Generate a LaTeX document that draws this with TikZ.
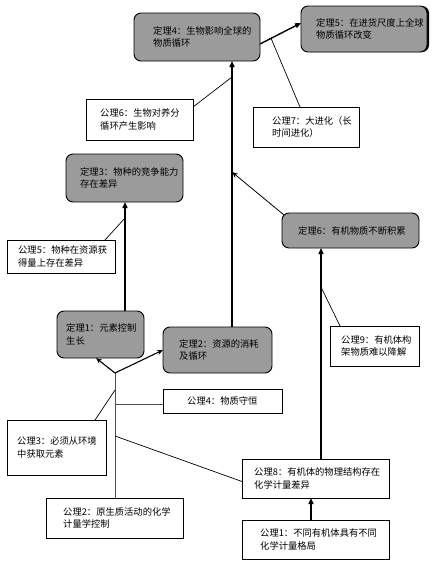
\documentclass[tikz,border=0pt]{standalone}
\usepackage{fontspec}
\setmainfont{Noto Sans CJK SC}
\usetikzlibrary{arrows.meta,shadows,backgrounds}
\definecolor{thmgray}{RGB}{155,155,155}
\definecolor{linegray}{RGB}{80,80,80}
\tikzset{
  thm/.style={draw=black, line width=0.9pt, fill=thmgray, rounded corners=7pt, outer sep=0pt, inner sep=0pt},
  ax/.style={draw=black, line width=0.8pt, fill=white, outer sep=0pt, inner sep=0pt},
  txt/.style={inner sep=0pt, align=left, font=\fontsize{9.3}{12.5}\selectfont},
  thinline/.style={line width=0.7pt, draw=black},
  grayline/.style={line width=0.9pt, draw=linegray},
  bigarr/.style={line width=1.4pt, -{Triangle[length=6pt,width=5pt]}},
  midarr/.style={line width=1.1pt, -{Stealth[length=6pt,width=5pt]}},
  smallarr/.style={line width=0.8pt, -{Stealth[length=6pt,width=5pt]}},
}
\newcommand\mybox[8]{%
  \node[#1, minimum width=#5pt, minimum height=#6pt, anchor=north west] (#2) at (#3,#4) {};
  \node[txt, anchor=west] (#2t) at ([xshift=#7pt]#2.west) {#8};}
\begin{document}
\begin{tikzpicture}[x=1pt,y=-1pt]
\useasboundingbox (0,0) rectangle (438,566);
% theorem boxes
\mybox{thm}{t4}{134}{13}{126}{48}{19}{定理4：生物影响全球的\\物质循环}
\mybox{thm,drop shadow={shadow xshift=2pt,shadow yshift=0pt,fill=black,opacity=1}}{t5}{301}{6}{126}{46}{15}{定理5：在进货尺度上全球\\物质循环改变}
\mybox{thm}{t3}{66}{154}{117}{48}{14}{定理3：物种的竞争能力\\存在差异}
\mybox{thm}{t6}{282}{213}{137}{35}{16}{定理6：有机物质不断积累}
\mybox{thm}{t1}{57}{311}{87}{47}{9}{定理1：元素控制\\生长}
\mybox{thm}{t2}{163}{327}{109}{46}{16}{定理2：资源的消耗\\及循环}
% axiom boxes
\mybox{ax}{a6}{86}{99}{107}{41}{14}{公理6：生物对养分\\循环产生影响}
\mybox{ax}{a7}{253}{107}{106}{40}{19}{公理7：大进化（长\\时间进化）}
\mybox{ax}{a5}{7}{240}{108}{33}{11}{公理5：物种在资源获\\得量上存在差异}
\mybox{ax}{a9}{330}{326}{89}{40}{11}{公理9：有机体构\\架物质难以降解}
\mybox{ax}{a4}{163}{389}{119}{24}{24}{公理4：物质守恒}
\mybox{ax}{a3}{7}{420}{99}{55}{10}{公理3：必须从环境\\中获取元素}
\mybox{ax}{a2}{46}{498}{137}{40}{17}{公理2：原生质活动的化学\\计量学控制}
\mybox{ax}{a8}{242}{459}{147}{39}{12}{公理8：有机体的物理结构存在\\化学计量差异}
\mybox{ax}{a1}{242}{520}{147}{39}{18}{公理1：不同有机体具有不同\\化学计量格局}
% junction points
\coordinate (j) at (115,373);
\coordinate (k3) at (115,390);
\coordinate (k4) at (115,404);
\coordinate (k8) at (115,436);
\coordinate (k9) at (321,287);
\coordinate (k5) at (125,218);
\coordinate (k6) at (232,77);
\coordinate (kt6) at (232,172);
\begin{pgfonlayer}{background}
\draw[grayline] (j) -- (j |- a2.north);
\draw[midarr] (j) -- ([xshift=39pt]t1.south west);
\draw[midarr] (j) -- (t2.west);
\draw[grayline] (k4) -- (k4 -| a4.west);
\draw[thinline] ([xshift=88pt]a3.north west) -- (k3);
\draw[thinline] (k8) -- ([yshift=-3pt]a8.west);
\draw[bigarr] ([xshift=69pt]a1.north west) coordinate (p1) -- (p1 |- a8.south);
\draw[bigarr] ([xshift=79pt]a8.north west) coordinate (p8) -- (p8 |- t6.south);
\draw[thinline] ([xshift=10pt]a9.north west) -- (k9);
\draw[bigarr] ([xshift=68pt]t1.north west) coordinate (p2) -- (p2 |- t3.south);
\draw[thinline] ([xshift=98pt]a5.north west) -- (k5);
\draw[bigarr] ([xshift=69pt]t2.north west) coordinate (p3) -- (p3 |- t4.south);
\draw[thinline] ([yshift=-8pt]a6.north east) -- (k6);
\draw[smallarr] ([xshift=2pt,yshift=-2pt]t6.north west) -- (kt6);
\draw[bigarr] ([yshift=-7pt]t4.east) -- coordinate[pos=0.27] (k7) ([yshift=6pt]t5.west);
\draw[thinline] ([xshift=47pt]a7.north west) -- (k7);
\end{pgfonlayer}
\end{tikzpicture}
\end{document}
